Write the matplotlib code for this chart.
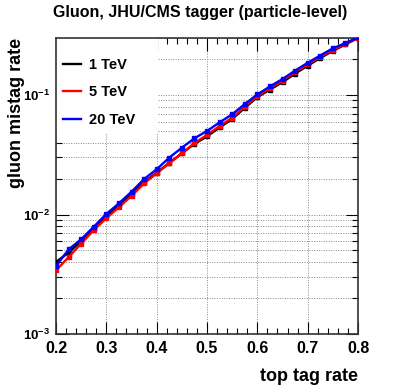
import matplotlib
matplotlib.use("Agg")
import matplotlib.pyplot as plt
from matplotlib.patches import Rectangle
from matplotlib.ticker import FuncFormatter, LogLocator, NullFormatter, MultipleLocator
import numpy as np

plt.rcParams["font.family"] = ["Liberation Sans", "DejaVu Sans"]
plt.rcParams["font.weight"] = "bold"
plt.rcParams["mathtext.fontset"] = "custom"
plt.rcParams["mathtext.bf"] = "Liberation Sans:bold"
plt.rcParams["mathtext.rm"] = "Liberation Sans:bold"

top_rate = [0.2, 0.225, 0.25, 0.275, 0.3, 0.325, 0.35, 0.375, 0.4, 0.425, 0.45, 0.475,
            0.5, 0.525, 0.55, 0.575, 0.6, 0.625, 0.65, 0.675, 0.7, 0.725, 0.75, 0.775, 0.8]

mistag_1tev = [0.0040, 0.0048, 0.0060, 0.0077, 0.0097, 0.0119, 0.0148, 0.0186, 0.0224, 0.0270,
               0.0325, 0.0390, 0.0450, 0.0535, 0.0630, 0.078, 0.096, 0.111, 0.128, 0.151,
               0.176, 0.204, 0.234, 0.265, 0.300]
mistag_5tev = [0.0034, 0.0044, 0.0057, 0.0074, 0.0093, 0.0115, 0.0143, 0.0182, 0.0221, 0.0268,
               0.0325, 0.0397, 0.0463, 0.055, 0.0646, 0.080, 0.098, 0.114, 0.132, 0.155,
               0.181, 0.208, 0.238, 0.268, 0.302]
mistag_20tev = [0.0037, 0.0051, 0.0062, 0.0079, 0.0101, 0.0124, 0.0155, 0.0198, 0.0239, 0.0299,
                0.0362, 0.0434, 0.0500, 0.0590, 0.0689, 0.084, 0.101, 0.118, 0.136, 0.160,
                0.186, 0.214, 0.246, 0.272, 0.304]

labels = ["1 TeV", "5 TeV", "20 TeV"]
colors = ["black", "red", "blue"]

fig = plt.figure(figsize=(3.99, 3.85), dpi=100)
ax = fig.add_axes([56 / 399, 51 / 385, 302 / 399, 296 / 385])

for y, lab, col in zip([mistag_1tev, mistag_5tev, mistag_20tev], labels, colors):
    ax.plot(top_rate, y, color=col, lw=1.7, marker="s", ms=2.2, mec=col, mfc=col, label=lab, zorder=3)

ax.set_yscale("log")
ax.set_xlim(0.2, 0.8)
ax.set_ylim(1e-3, 0.3)

ax.xaxis.set_major_locator(MultipleLocator(0.1))
ax.xaxis.set_minor_locator(MultipleLocator(0.02))
ax.xaxis.set_major_formatter(FuncFormatter(lambda v, p: f"{v:.1f}"))
ax.yaxis.set_major_locator(LogLocator(base=10, numticks=10))
ax.yaxis.set_minor_locator(LogLocator(base=10, subs=np.arange(2, 10), numticks=20))
ax.yaxis.set_minor_formatter(NullFormatter())
ax.yaxis.set_major_formatter(FuncFormatter(lambda v, p: r"$\mathbf{10^{%d}}$" % round(np.log10(v))))

ax.tick_params(which="both", direction="in", top=True, right=True, pad=5)
ax.tick_params(axis="x", labelsize=11.5)
ax.tick_params(axis="y", labelsize=9.5, pad=4)
ax.tick_params(which="major", length=9, width=0.8)
ax.tick_params(which="minor", length=4.5, width=0.8)
for s in ax.spines.values():
    s.set_linewidth(1.2)
    s.set_color("#333333")

ax.grid(True, which="major", axis="x", ls=(0, (1, 1.5)), color="#888888", lw=0.7)
ax.grid(True, which="both", axis="y", ls=(0, (1, 1.5)), color="#888888", lw=0.7)

# white legend box hiding the grid behind it
ax.add_patch(Rectangle((0, 0.676), 0.338, 0.324, transform=ax.transAxes,
                       facecolor="white", edgecolor="none", zorder=2))

leg = ax.legend(loc="upper left", bbox_to_anchor=(0.023, 0.933), frameon=False, fontsize=10.5,
                handlelength=1.24, labelspacing=0.92, borderaxespad=0, handletextpad=0.55,
                borderpad=0)
for h in leg.get_lines():
    h.set_marker("")
    h.set_linewidth(1.7)

fig.text(200 / 399, 1 - 12 / 385, "Gluon, JHU/CMS tagger (particle-level)", ha="center", va="center",
         fontsize=11.5, fontweight="bold")
ax.set_xlabel("top tag rate", fontsize=13, fontweight="bold", loc="right", labelpad=9)
fig.text(17 / 399, 1 - 38 / 385, "gluon mistag rate", rotation=90, ha="center", va="top",
         fontsize=13, fontweight="bold")

fig.savefig("out.png", dpi=100)
